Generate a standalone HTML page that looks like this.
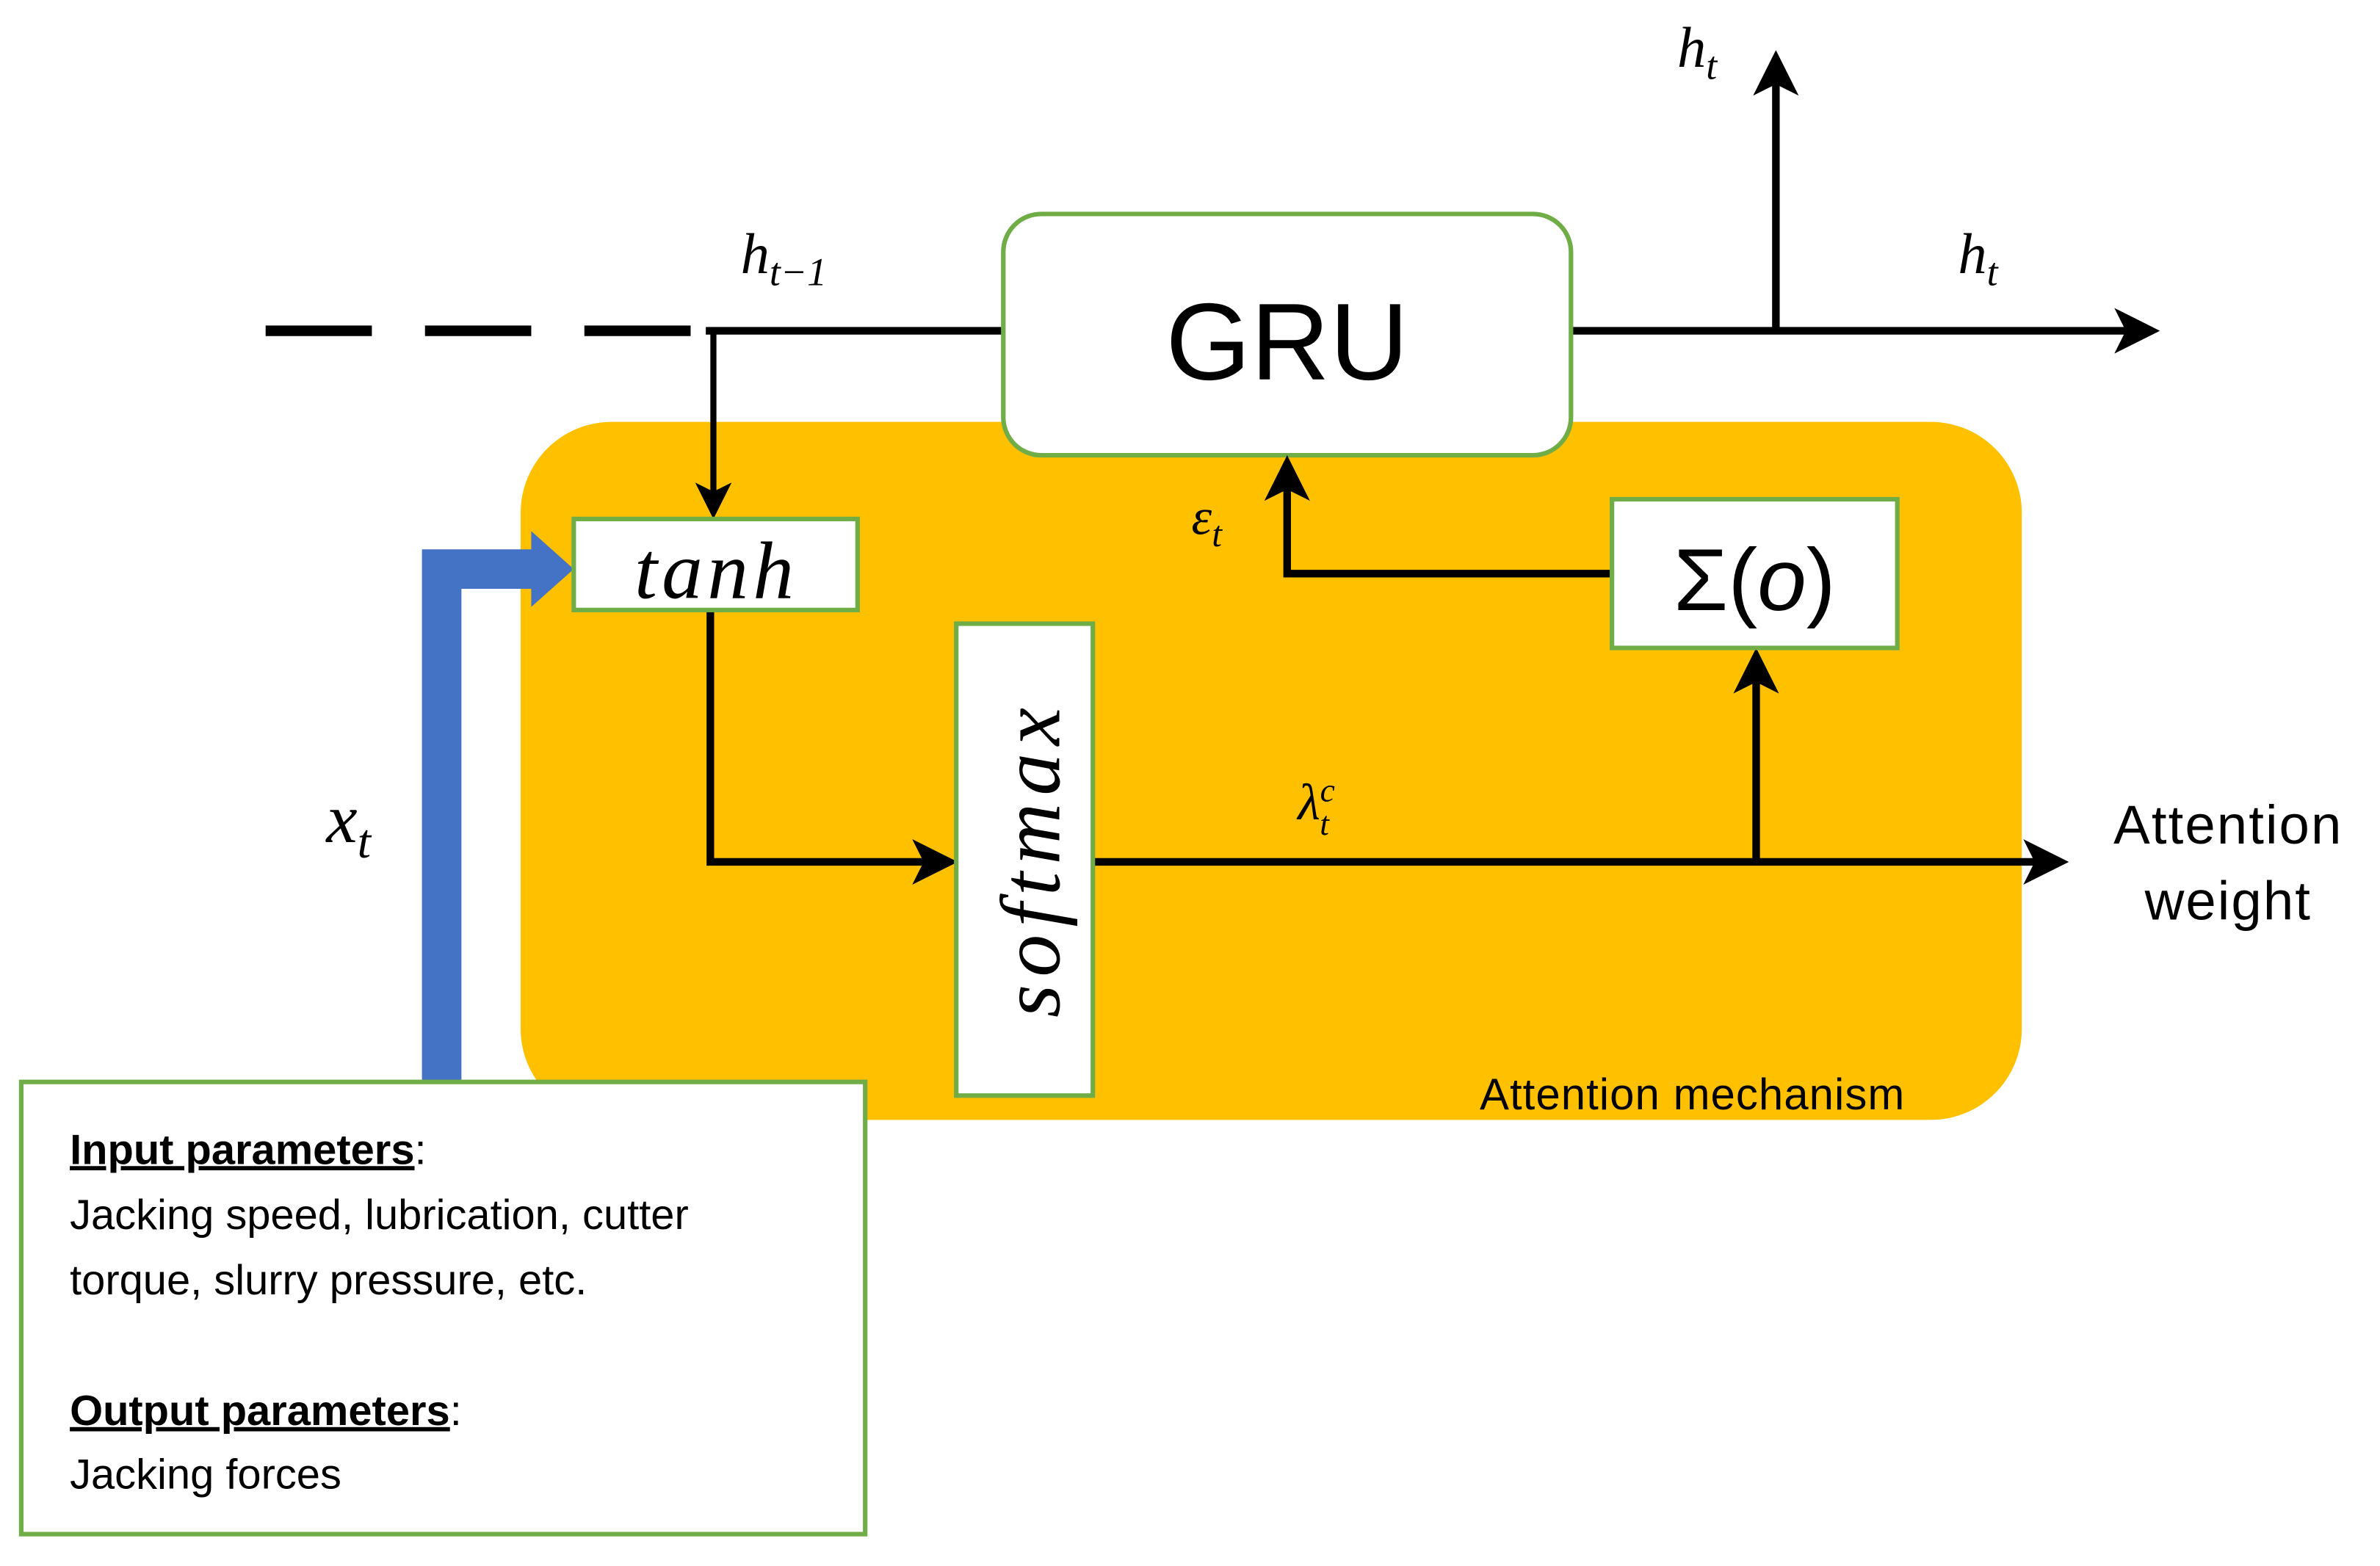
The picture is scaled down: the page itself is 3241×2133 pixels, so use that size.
<!DOCTYPE html>
<html><head><style>
html,body{margin:0;padding:0;background:#fff;width:3241px;height:2133px;overflow:hidden}
svg{display:block}
text{font-family:"Liberation Sans",sans-serif}
.m{font-family:"Liberation Serif",serif;font-style:italic}
</style></head><body>
<svg width="3241" height="2133" viewBox="0 0 1568 1032" preserveAspectRatio="none">
<defs>
<marker id="a" markerWidth="6" markerHeight="6" refX="5" refY="3" orient="auto" markerUnits="strokeWidth">
<path d="M0,0 L6,3 L0,6 L1.5,3 z" fill="#000"/></marker>
</defs>
<rect x="343" y="278" width="989" height="460" rx="60" fill="#FFC000"/>
<line x1="175" y1="218" x2="470" y2="218" stroke="#000" stroke-width="7" stroke-dasharray="70,35"/>
<line x1="465" y1="218" x2="662" y2="218" stroke="#000" stroke-width="5"/>
<polyline points="470,218 470,338" fill="none" stroke="#000" stroke-width="4" marker-end="url(#a)"/>
<line x1="1035" y1="218" x2="1418" y2="218" stroke="#000" stroke-width="5" marker-end="url(#a)"/>
<line x1="1170" y1="220" x2="1170" y2="38" stroke="#000" stroke-width="5" marker-end="url(#a)"/>
<rect x="661" y="141" width="374" height="159" rx="25" fill="#fff" stroke="#70AD47" stroke-width="3"/>
<text x="848" y="250" font-size="72" text-anchor="middle">GRU</text>
<path d="M278,712 L278,362 L350,362 L350,350 L378,375 L350,400 L350,388 L304,388 L304,712 z" fill="#4472C4"/>
<polyline points="468,402 468,568 626,568" fill="none" stroke="#000" stroke-width="5" marker-end="url(#a)"/>
<line x1="720" y1="568" x2="1358" y2="568" stroke="#000" stroke-width="5" marker-end="url(#a)"/>
<line x1="1157" y1="570" x2="1157" y2="432" stroke="#000" stroke-width="5" marker-end="url(#a)"/>
<polyline points="1062,378 848,378 848,305" fill="none" stroke="#000" stroke-width="5" marker-end="url(#a)"/>
<rect x="378" y="342" width="187" height="60" fill="#fff" stroke="#70AD47" stroke-width="3"/>
<text x="472" y="394" font-size="54" text-anchor="middle" class="m" letter-spacing="3">tanh</text>
<rect x="630" y="411" width="90" height="311" fill="#fff" stroke="#70AD47" stroke-width="3"/>
<text transform="translate(698,566) rotate(-90)" font-size="56" text-anchor="middle" class="m" letter-spacing="5">softmax</text>
<rect x="1062" y="329" width="188" height="98" fill="#fff" stroke="#70AD47" stroke-width="3"/>
<text x="1156" y="402" font-size="58" text-anchor="middle" font-family="Liberation Serif,serif">Σ(<tspan font-style="italic">o</tspan>)</text>
<text x="1105" y="44" font-size="38" class="m">h<tspan font-size="26" dy="8">t</tspan></text>
<text x="1290" y="180" font-size="38" class="m">h<tspan font-size="26" dy="8">t</tspan></text>
<text x="488" y="180" font-size="38" class="m">h<tspan font-size="26" dy="8">t−1</tspan></text>
<text x="785" y="352" font-size="34" class="m">ε<tspan font-size="24" dy="8">t</tspan></text>
<text x="855" y="540" font-size="34" class="m">λ<tspan font-size="22" dy="-12">c</tspan><tspan font-size="22" dx="-10" dy="22">t</tspan></text>
<text x="215" y="555" font-size="46" class="m">x<tspan font-size="32" dy="10">t</tspan></text>
<text x="1468" y="556" font-size="36" text-anchor="middle" letter-spacing="1">Attention</text>
<text x="1468" y="606" font-size="36" text-anchor="middle" letter-spacing="1">weight</text>
<text x="1115" y="731" font-size="29" text-anchor="middle" letter-spacing="0.5">Attention mechanism</text>
<rect x="14" y="713" width="556" height="298" fill="#fff" stroke="#70AD47" stroke-width="3"/>
<g font-size="28">
<text x="46" y="767"><tspan text-decoration="underline" font-weight="bold">Input parameters</tspan>:</text>
<text x="46" y="810">Jacking speed, lubrication, cutter</text>
<text x="46" y="853">torque, slurry pressure, etc.</text>
<text x="46" y="939"><tspan text-decoration="underline" font-weight="bold">Output parameters</tspan>:</text>
<text x="46" y="981">Jacking forces</text>
</g>
</svg>
</body></html>
